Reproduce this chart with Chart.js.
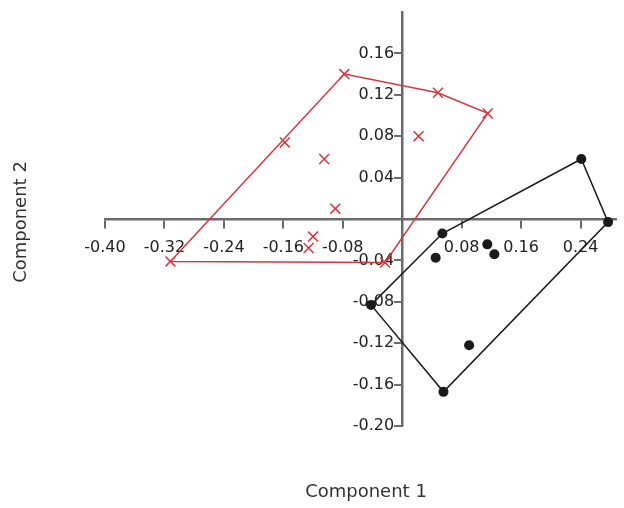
<!DOCTYPE html>
<html>
<head>
<meta charset="utf-8">
<script src="https://cdn.jsdelivr.net/npm/chart.js@4.4.1/dist/chart.umd.min.js"></script>
<style>
  html, body { margin: 0; padding: 0; background: #fff; }
  #wrap { width: 624px; height: 508px; }
</style>
</head>
<body>
<div id="wrap"><canvas id="pca" width="624" height="508"></canvas></div>
<script>
// group 1 (red crosses)
const redX = [-0.312, -0.078, 0.048, 0.115, -0.023, -0.158, -0.105, 0.022, -0.090, -0.120, -0.126];
const redY = [-0.041, 0.140, 0.122, 0.102, -0.042, 0.074, 0.058, 0.080, 0.010, -0.017, -0.028];
const redHull = [0, 1, 2, 3, 4, 0];

// group 2 (black dots)
const blackX = [0.241, 0.277, 0.0555, -0.042, 0.054, 0.045, 0.1145, 0.124, 0.090];
const blackY = [0.058, -0.003, -0.167, -0.083, -0.014, -0.0375, -0.0245, -0.034, -0.122];
const blackHull = [0, 1, 2, 3, 4, 0];

const xTicks = [-0.40, -0.32, -0.24, -0.16, -0.08, 0.08, 0.16, 0.24];
const yTicks = [-0.20, -0.16, -0.12, -0.08, -0.04, 0.04, 0.08, 0.12, 0.16];

const xTitle = 'Component 1';
const yTitle = 'Component 2';

const RED = '#d8353d';
const INK = '#1a1a1a';
const AXIS = '#6b6b6b';
const FONT = "'DejaVu Sans', 'Noto Sans', sans-serif";

const pts = (xs, ys) => xs.map((x, i) => ({x: x, y: ys[i]}));
const hull = (xs, ys, idx) => idx.map(i => ({x: xs[i], y: ys[i]}));

// axis titles drawn on the canvas, outside the centred axes
const titles = {
  id: 'titles',
  afterDraw(chart) {
    const c = chart.ctx;
    c.save();
    c.fillStyle = '#333';
    c.font = '18px ' + FONT;
    c.textAlign = 'center';
    c.textBaseline = 'middle';
    c.fillText(xTitle, 366, 492);
    c.translate(21, 222);
    c.rotate(-Math.PI / 2);
    c.fillText(yTitle, 0, 0);
    c.restore();
  }
};

// y labels of a centred axis sit on the axis line; push them left of the tick marks
const shiftY = {
  id: 'shiftY',
  afterLayout(chart) {
    const s = chart.scales.y;
    if (s._shifted) return;
    const orig = s._computeLabelItems.bind(s);
    s._computeLabelItems = area => orig(area).map(it => {
      it.options.translation[0] -= 8;
      return it;
    });
    s._shifted = true;
  }
};

new Chart(document.getElementById('pca'), {
  type: 'scatter',
  data: {
    datasets: [
      {
        data: hull(redX, redY, redHull),
        showLine: true,
        borderColor: RED,
        borderWidth: 1.5,
        pointRadius: 0,
        fill: false
      },
      {
        data: hull(blackX, blackY, blackHull),
        showLine: true,
        borderColor: INK,
        borderWidth: 1.5,
        pointRadius: 0,
        fill: false
      },
      {
        data: pts(redX, redY),
        pointStyle: 'crossRot',
        pointRadius: 7,
        borderColor: RED,
        borderWidth: 1.5
      },
      {
        data: pts(blackX, blackY),
        pointStyle: 'circle',
        pointRadius: 5,
        backgroundColor: INK,
        borderColor: INK,
        borderWidth: 0
      }
    ]
  },
  options: {
    responsive: false,
    animation: false,
    layout: { padding: { left: 105, top: 12, right: 0, bottom: 82 } },
    plugins: { legend: { display: false }, tooltip: { enabled: false } },
    scales: {
      x: {
        type: 'linear',
        min: -0.40,
        max: 0.287,
        position: { y: 0 },
        afterBuildTicks: s => { s.ticks = xTicks.map(v => ({value: v})); },
        ticks: {
          callback: v => v.toFixed(2),
          color: '#222',
          font: { family: FONT, size: 16 },
          padding: 11,
          maxRotation: 0,
          autoSkip: false
        },
        grid: { drawOnChartArea: false, drawTicks: true, tickLength: 8, color: AXIS, lineWidth: 2 },
        border: { color: AXIS, width: 2.5 }
      },
      y: {
        type: 'linear',
        min: -0.20,
        max: 0.20,
        position: { x: 0 },
        afterBuildTicks: s => { s.ticks = yTicks.map(v => ({value: v})); },
        ticks: {
          callback: v => v.toFixed(2),
          color: '#222',
          font: { family: FONT, size: 16 },
          padding: 2,
          autoSkip: false
        },
        grid: { drawOnChartArea: false, drawTicks: true, tickLength: 7, color: AXIS, lineWidth: 2 },
        border: { color: AXIS, width: 2.5 }
      }
    }
  },
  plugins: [titles, shiftY]
});
</script>
</body>
</html>
